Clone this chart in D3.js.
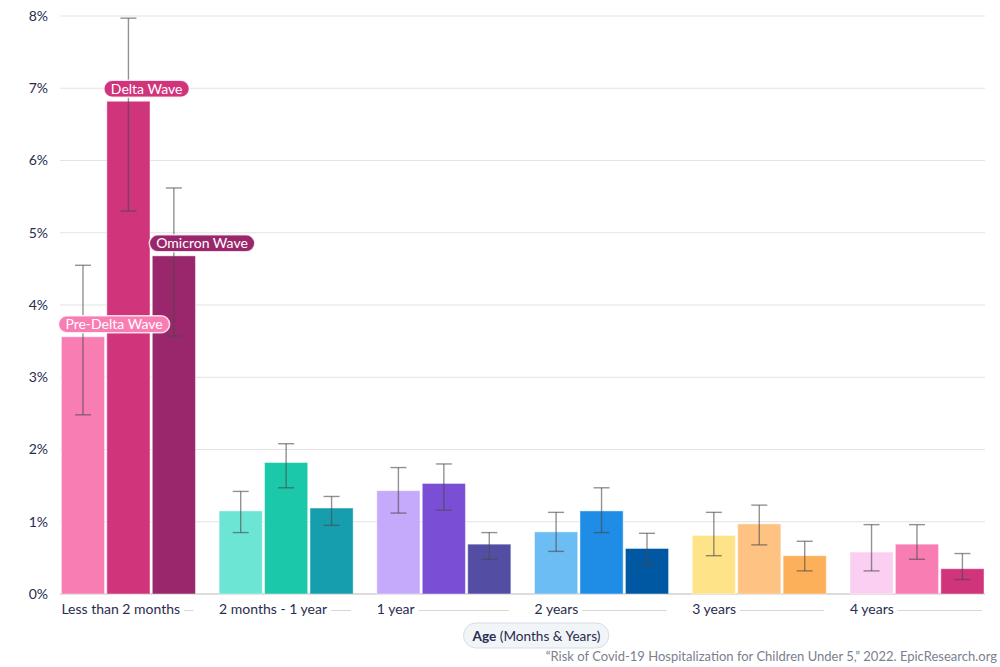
<!DOCTYPE html>
<html>
<head>
<meta charset="utf-8">
<script src="https://cdn.jsdelivr.net/npm/d3@7"></script>
<style>
  body { margin: 0; background: #fff; }
  svg { font-family: Lato, "Open Sans", sans-serif; display: block; }
</style>
</head>
<body>
<div id="chart"></div>
<script>
// data (percent hospitalized)
const ageGroups = ["Less than 2 months", "2 months - 1 year", "1 year", "2 years", "3 years", "4 years"];
const waves = ["Pre-Delta Wave", "Delta Wave", "Omicron Wave"];

const preDelta = [3.56, 1.15, 1.43, 0.86, 0.81, 0.58];
const delta = [6.82, 1.82, 1.53, 1.15, 0.97, 0.69];
const omicron = [4.68, 1.19, 0.69, 0.63, 0.53, 0.35];

const preDeltaLow = [2.48, 0.85, 1.12, 0.59, 0.53, 0.32];
const preDeltaHigh = [4.55, 1.42, 1.75, 1.13, 1.13, 0.96];
const deltaLow = [5.30, 1.47, 1.16, 0.85, 0.68, 0.48];
const deltaHigh = [7.97, 2.08, 1.80, 1.47, 1.23, 0.96];
const omicronLow = [3.57, 0.95, 0.48, 0.41, 0.32, 0.20];
const omicronHigh = [5.62, 1.35, 0.85, 0.84, 0.73, 0.56];

// every age group has its own palette
const groupColors = [
    ["#f87db2", "#d0347a", "#9a276b"],
    ["#6de5d5", "#1cc8aa", "#179eae"],
    ["#c5a9fb", "#7a4ed5", "#534ea4"],
    ["#6bbdf3", "#1f8de6", "#0058a2"],
    ["#fee389", "#fec382", "#fdb05a"],
    ["#facff1", "#f87db2", "#d0347a"]
];

const yTicks = [0, 1, 2, 3, 4, 5, 6, 7, 8];
const xTitleBold = "Age";
const xTitleRest = " (Months & Years)";
const source = "\u201cRisk of Covid-19 Hospitalization for Children Under 5,\u201d 2022. EpicResearch.org";

const values = [preDelta, delta, omicron];
const lows = [preDeltaLow, deltaLow, omicronLow];
const highs = [preDeltaHigh, deltaHigh, omicronHigh];

const rows = [];
ageGroups.forEach((g, i) => {
    waves.forEach((w, j) => {
        rows.push({ group: g, gi: i, wave: w, wi: j, value: values[j][i], low: lows[j][i], high: highs[j][i] });
    });
});

const width = 1000, height = 667;
const left = 60, right = 985;

const svg = d3.select("#chart")
    .append("svg")
    .attr("width", width)
    .attr("height", height);

const y = d3.scaleLinear()
    .domain([0, 8])
    .range([594, 16]);

const x0 = d3.scaleBand()
    .domain(ageGroups)
    .range([61.4, 984])
    .paddingInner(0.15);

const x1 = d3.scaleBand()
    .domain(waves)
    .range([0, x0.bandwidth()])
    .paddingInner(0.05);

// gridlines
svg.append("g")
    .selectAll("line")
    .data(yTicks)
    .enter()
    .append("line")
    .attr("x1", left)
    .attr("x2", right)
    .attr("y1", d => y(d))
    .attr("y2", d => y(d))
    .attr("stroke", d => d === 0 ? "#dcdcdc" : "#e3e3e3")
    .attr("stroke-width", d => d === 0 ? 2 : 1.2);

// y labels
svg.append("g")
    .selectAll("text")
    .data(yTicks)
    .enter()
    .append("text")
    .attr("x", 48)
    .attr("y", d => y(d))
    .attr("dy", "0.35em")
    .attr("text-anchor", "end")
    .attr("fill", "#2a2c4e")
    .style("font-size", "14px")
    .text(d => d + "%");

// bars
svg.append("g")
    .selectAll("rect")
    .data(rows)
    .enter()
    .append("rect")
    .attr("x", d => x0(d.group) + x1(d.wave))
    .attr("y", d => y(d.value))
    .attr("width", x1.bandwidth())
    .attr("height", d => y(0) - y(d.value))
    .attr("fill", d => groupColors[d.gi][d.wi])
    .attr("stroke", "rgba(255,255,255,0.45)")
    .attr("stroke-width", 1);

// error bars
const cap = 8;
const err = svg.append("g")
    .attr("stroke", "#4a4a4a")
    .attr("stroke-opacity", 0.6)
    .attr("stroke-width", 1.4)
    .selectAll("g")
    .data(rows)
    .enter()
    .append("g")
    .attr("transform", d => `translate(${x0(d.group) + x1(d.wave) + x1.bandwidth() / 2},0)`);
err.append("line")
    .attr("y1", d => y(d.low))
    .attr("y2", d => y(d.high));
err.append("line")
    .attr("x1", -cap).attr("x2", cap)
    .attr("y1", d => y(d.high)).attr("y2", d => y(d.high));
err.append("line")
    .attr("x1", -cap).attr("x2", cap)
    .attr("y1", d => y(d.low)).attr("y2", d => y(d.low));

// wave labels on the first group
const firstRows = rows.filter(d => d.gi === 0);
const tags = svg.append("g")
    .selectAll("g")
    .data(firstRows)
    .enter()
    .append("g")
    .attr("transform", d => `translate(${x0(d.group) + x1(d.wave) - 3},${y(d.value) - 12.5})`);
tags.append("rect")
    .attr("y", -8.5)
    .attr("height", 17)
    .attr("rx", 8.5)
    .attr("fill", d => groupColors[0][d.wi])
    .attr("stroke", "rgba(255,255,255,0.8)")
    .attr("stroke-width", 1.5);
tags.append("text")
    .attr("x", 7)
    .attr("dy", "0.36em")
    .attr("fill", "#fff")
    .style("font-size", "14px")
    .text(d => d.wave);
tags.each(function () {
    const g = d3.select(this);
    const w = g.select("text").node().getComputedTextLength();
    g.select("rect").attr("width", w + 14);
});

// x labels with trailing rule
const xl = svg.append("g")
    .selectAll("g")
    .data(ageGroups)
    .enter()
    .append("g")
    .attr("transform", d => `translate(${x0(d)},614)`);
xl.append("text")
    .attr("fill", "#2a2c4e")
    .style("font-size", "14px")
    .text(d => d);
xl.each(function (d) {
    const g = d3.select(this);
    const w = g.select("text").node().getComputedTextLength();
    g.append("line")
        .attr("x1", w + 4)
        .attr("x2", x0.bandwidth() - 2)
        .attr("y1", -3.5)
        .attr("y2", -3.5)
        .attr("stroke", "#d6d6d6")
        .attr("stroke-width", 1);
});

// axis title pill
const titleG = svg.append("g");
const titleRect = titleG.append("rect");
const titleText = titleG.append("text")
    .attr("x", 536.5)
    .attr("y", 640.5)
    .attr("text-anchor", "middle")
    .attr("fill", "#2a2c4e")
    .style("font-size", "13.6px");
titleText.append("tspan").style("font-weight", "bold").text(xTitleBold);
titleText.append("tspan").text(xTitleRest);
const tb = titleText.node().getBBox();
titleRect
    .attr("x", tb.x - 8)
    .attr("y", 623)
    .attr("width", tb.width + 16)
    .attr("height", 25)
    .attr("rx", 12.5)
    .attr("fill", "#f1f5f8")
    .attr("stroke", "#d5dde5");

// source
svg.append("text")
    .attr("x", 997)
    .attr("y", 661)
    .attr("text-anchor", "end")
    .attr("fill", "#7b7f8e")
    .style("font-size", "13px")
    .text(source);
</script>
</body>
</html>
